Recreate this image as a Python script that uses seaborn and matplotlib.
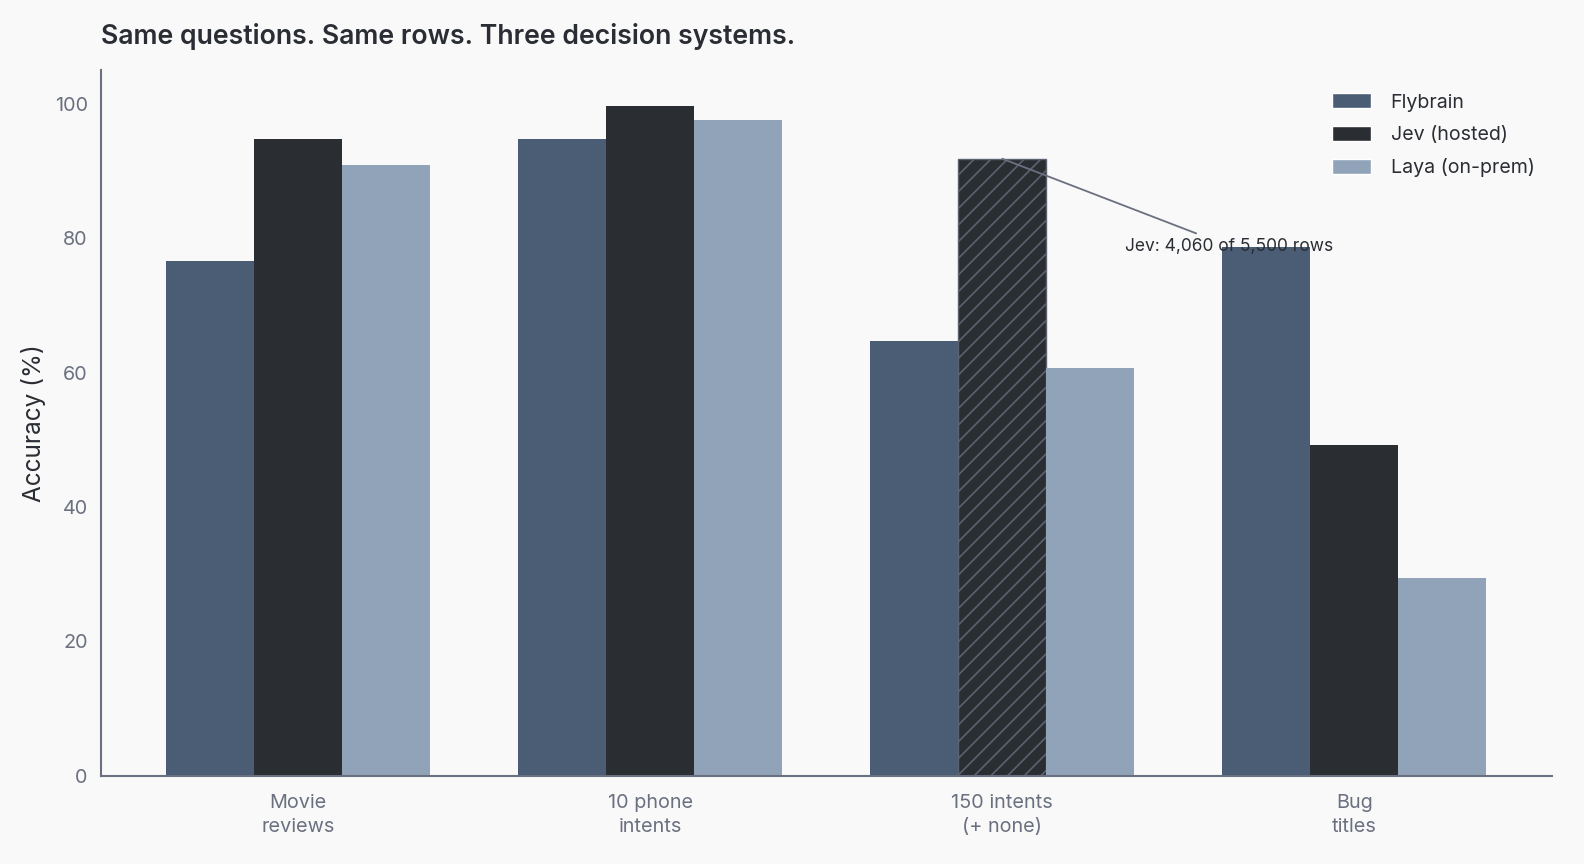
import pandas as pd
import seaborn as sns
import matplotlib.pyplot as plt
from matplotlib.patches import Patch

# data
datasets = ["Movie\nreviews", "10 phone\nintents", "150 intents\n(+ none)", "Bug\ntitles"]
systems = ["Flybrain", "Jev (hosted)", "Laya (on-prem)"]
flybrain = [76.6, 94.8, 64.7, 78.6]
jev = [94.8, 99.6, 91.8, 49.2]
laya = [90.8, 97.5, 60.7, 29.5]
colors = ["#4a5d74", "#2a2e33", "#91a3b8"]

rows = []
for name, vals in zip(systems, [flybrain, jev, laya]):
    for d, v in zip(datasets, vals):
        rows.append({"dataset": d, "system": name, "acc": v})
df = pd.DataFrame(rows)

BG = "#f9f9f9"
GREY = "#6b7080"
DARK = "#2a2d33"

sns.set_style("white")
plt.rcParams['font.family'] = ['Inter', 'DejaVu Sans']
plt.rcParams['hatch.linewidth'] = 1.2

fig = plt.figure(figsize=(15.84, 8.64), dpi=100, facecolor=BG)
ax = fig.add_axes([0.0638, 0.1019, 0.9162, 0.8171])
ax.set_facecolor(BG)

sns.barplot(data=df, x="dataset", y="acc", hue="system", palette=colors,
            saturation=1, width=0.75, gap=0, legend=False, linewidth=0, ax=ax)

# partial-coverage bar: Jev on 150 intents
hb = ax.containers[1][2]
hb.set_hatch("//")
hb.set_edgecolor("#5c6270")
hb.set_linewidth(1.0)

ax.annotate("Jev: 4,060 of 5,500 rows", xy=(2.0, jev[2]), xytext=(2.645, 78.8),
            ha="center", va="center", fontsize=12.5, color=DARK,
            arrowprops=dict(arrowstyle="-", color=GREY, lw=1.3, shrinkA=2, shrinkB=0))

ax.set_xlim(-0.56, 3.5625)
ax.set_ylim(0, 105)
ax.set_yticks([0, 20, 40, 60, 80, 100])
ax.set_xlabel("")
ax.set_ylabel("Accuracy (%)", fontsize=17.5, color=DARK, labelpad=6)
ax.tick_params(axis="both", colors=GREY, labelsize=14.3, length=6, width=1.2)
ax.tick_params(axis="x", pad=7)
for t in ax.get_xticklabels():
    t.set_linespacing(1.45)

for s in ["top", "right"]:
    ax.spines[s].set_visible(False)
for s in ["left", "bottom"]:
    ax.spines[s].set_color(GREY)
    ax.spines[s].set_linewidth(1.5)

handles = [Patch(facecolor=c, label=l) for c, l in zip(colors, systems)]
ax.legend(handles=handles, loc="upper right", bbox_to_anchor=(1.0, 0.992), frameon=False,
          fontsize=14.1, handlelength=2.0, handleheight=0.8, labelspacing=0.72,
          handletextpad=1.0, labelcolor=DARK)

fig.text(0.0638, 0.958, "Same questions. Same rows. Three decision systems.",
         fontsize=19.2, fontweight="semibold", color=DARK, ha="left", va="center")

fig.savefig("out.png", dpi=100, facecolor=BG)
